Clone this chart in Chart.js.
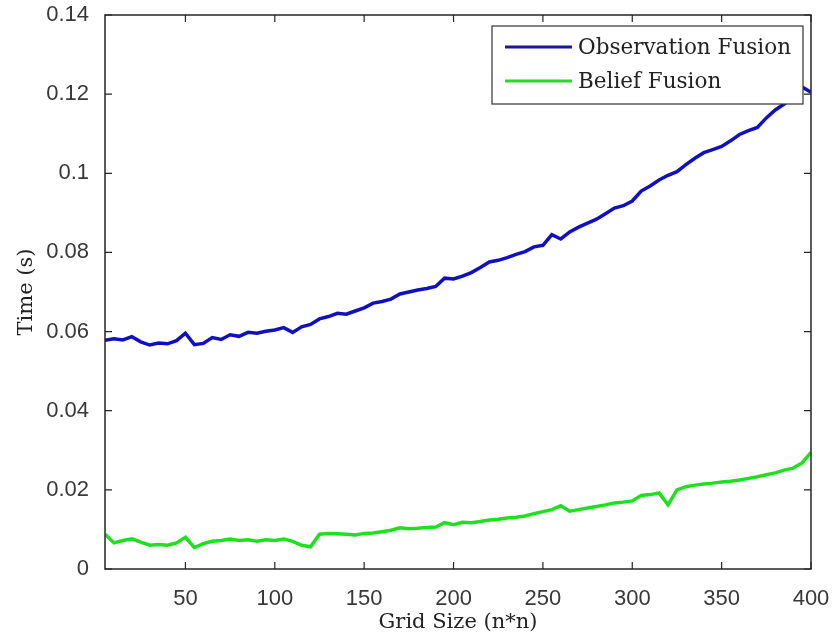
<!DOCTYPE html>
<html>
<head>
<meta charset="utf-8">
<script src="https://cdn.jsdelivr.net/npm/chart.js@4.4.1/dist/chart.umd.min.js"></script>
<style>
  html, body { margin: 0; padding: 0; background: #fff; }
  #timeChart { display: block; }
</style>
</head>
<body>
<canvas id="timeChart" width="835" height="641"></canvas>
<script>
// grid size values along x
const gridSize = [
  5, 10, 15, 20, 25, 30, 35, 40, 45, 50, 55, 60, 65, 70, 75, 80, 85, 90, 95, 100,
  105, 110, 115, 120, 125, 130, 135, 140, 145, 150, 155, 160, 165, 170, 175, 180, 185, 190, 195, 200,
  205, 210, 215, 220, 225, 230, 235, 240, 245, 250, 255, 260, 265, 270, 275, 280, 285, 290, 295, 300,
  305, 310, 315, 320, 325, 330, 335, 340, 345, 350, 355, 360, 365, 370, 375, 380, 385, 390, 395, 400
];

const observationFusion = [
  0.0578, 0.0582, 0.0579, 0.0587, 0.0574, 0.0566, 0.0571, 0.0569, 0.0577, 0.0596,
  0.0567, 0.0570, 0.0585, 0.0580, 0.0592, 0.0588, 0.0598, 0.0596, 0.0601, 0.0604,
  0.0610, 0.0598, 0.0612, 0.0618, 0.0632, 0.0638, 0.0646, 0.0644, 0.0652, 0.0660,
  0.0672, 0.0676, 0.0682, 0.0695, 0.0700, 0.0705, 0.0709, 0.0714, 0.0735, 0.0733,
  0.0740, 0.0749, 0.0762, 0.0776, 0.0780, 0.0787, 0.0795, 0.0802, 0.0814, 0.0818,
  0.0845, 0.0834, 0.0852, 0.0864, 0.0874, 0.0884, 0.0898, 0.0912, 0.0918, 0.0930,
  0.0955, 0.0968, 0.0983, 0.0995, 0.1004, 0.1022, 0.1038, 0.1052, 0.1060, 0.1068,
  0.1082, 0.1098, 0.1108, 0.1116, 0.1140, 0.1160, 0.1175, 0.1195, 0.1218, 0.1205
];

const beliefFusion = [
  0.0088, 0.0066, 0.0072, 0.0076, 0.0068, 0.0060, 0.0062, 0.0060, 0.0066, 0.0080,
  0.0054, 0.0064, 0.0070, 0.0072, 0.0076, 0.0072, 0.0074, 0.0070, 0.0074, 0.0072,
  0.0076, 0.0070, 0.0060, 0.0056, 0.0088, 0.0090, 0.0089, 0.0088, 0.0086, 0.0090,
  0.0091, 0.0094, 0.0098, 0.0104, 0.0102, 0.0103, 0.0105, 0.0106, 0.0117, 0.0112,
  0.0118, 0.0117, 0.0120, 0.0124, 0.0126, 0.0129, 0.0131, 0.0134, 0.0140, 0.0145,
  0.0150, 0.0160, 0.0146, 0.0150, 0.0154, 0.0158, 0.0162, 0.0167, 0.0169, 0.0172,
  0.0186, 0.0188, 0.0192, 0.0162, 0.0200, 0.0208, 0.0212, 0.0215, 0.0217, 0.0220,
  0.0222, 0.0225, 0.0229, 0.0233, 0.0238, 0.0243, 0.0250, 0.0255, 0.0268, 0.0295
];

const xTicks = [50, 100, 150, 200, 250, 300, 350, 400];
const yTicks = [0, 0.02, 0.04, 0.06, 0.08, 0.1, 0.12, 0.14];

const tickFont = { family: 'Liberation Sans', size: 22 };
const titleFont = { family: 'DejaVu Serif', size: 21 };
const axisColor = '#262626';

function toPoints(ys) {
  return gridSize.map((x, i) => ({ x: x, y: ys[i] }));
}

// matlab style box, inward ticks and legend
const matlabFrame = {
  id: 'matlabFrame',
  afterDraw(chart) {
    const c = chart.ctx;
    const a = chart.chartArea;
    const xs = chart.scales.x;
    const ys = chart.scales.y;
    const len = 7;
    c.save();
    c.strokeStyle = axisColor;
    c.lineWidth = 1.5;
    c.strokeRect(a.left, a.top, a.right - a.left, a.bottom - a.top);
    c.lineWidth = 1.2;
    c.beginPath();
    xTicks.forEach(v => {
      const px = xs.getPixelForValue(v);
      c.moveTo(px, a.bottom); c.lineTo(px, a.bottom - len);
      c.moveTo(px, a.top); c.lineTo(px, a.top + len);
    });
    yTicks.forEach(v => {
      const py = ys.getPixelForValue(v);
      c.moveTo(a.left, py); c.lineTo(a.left + len, py);
      c.moveTo(a.right, py); c.lineTo(a.right - len, py);
    });
    c.stroke();

    // legend box
    const bx = 492, by = 26, bw = 311, bh = 78;
    c.fillStyle = '#fff';
    c.fillRect(bx, by, bw, bh);
    c.lineWidth = 1.2;
    c.strokeStyle = '#333';
    c.strokeRect(bx, by, bw, bh);
    c.font = '21.5px "DejaVu Serif"';
    c.textBaseline = 'middle';
    c.textAlign = 'left';
    chart.data.datasets.forEach((ds, i) => {
      const ry = by + 21 + i * 34;
      c.strokeStyle = ds.legendColor;
      c.lineWidth = 3;
      c.beginPath();
      c.moveTo(bx + 13, ry); c.lineTo(bx + 80, ry);
      c.stroke();
      c.fillStyle = '#222';
      c.fillText(ds.label, bx + 86, ry + 1);
    });
    c.restore();
  }
};

const ctx = document.getElementById('timeChart').getContext('2d');
const chart = new Chart(ctx, {
  type: 'line',
  data: {
    datasets: [
      {
        label: 'Observation Fusion',
        data: toPoints(observationFusion),
        borderColor: '#1010c0',
        legendColor: '#1a1a8a',
        borderWidth: 3.5,
        pointRadius: 0,
        tension: 0
      },
      {
        label: 'Belief Fusion',
        data: toPoints(beliefFusion),
        borderColor: '#1fe01f',
        legendColor: '#2ad82a',
        borderWidth: 3.5,
        pointRadius: 0,
        tension: 0
      }
    ]
  },
  options: {
    responsive: false,
    animation: false,
    devicePixelRatio: 1,
    layout: { padding: { top: 15, right: 24, left: 0, bottom: 0 } },
    plugins: {
      legend: { display: false },
      tooltip: { enabled: false }
    },
    scales: {
      x: {
        type: 'linear',
        min: 5,
        max: 400,
        grid: { display: false },
        border: { display: false },
        afterBuildTicks: s => { s.ticks = xTicks.map(v => ({ value: v })); },
        afterFit: s => { s.height = 72; s.paddingLeft = 0; s.paddingRight = 0; },
        ticks: {
          font: tickFont,
          color: '#383838',
          padding: 9,
          maxRotation: 0,
          autoSkip: false,
          callback: v => String(v)
        },
        title: {
          display: true,
          text: 'Grid Size (n*n)',
          font: titleFont,
          color: '#222',
          padding: { top: 0, bottom: 6 }
        }
      },
      y: {
        min: 0,
        max: 0.14,
        grid: { display: false },
        border: { display: false },
        afterBuildTicks: s => { s.ticks = yTicks.map(v => ({ value: v })); },
        afterFit: s => { s.width = 105; s.paddingTop = 0; s.paddingBottom = 0; },
        ticks: {
          font: tickFont,
          color: '#383838',
          padding: 8,
          autoSkip: false,
          callback: v => String(Number(v.toFixed(2)))
        },
        title: {
          display: true,
          text: 'Time (s)',
          font: titleFont,
          color: '#222',
          padding: { top: 14, bottom: 0 }
        }
      }
    }
  },
  plugins: [matlabFrame]
});
</script>
</body>
</html>
